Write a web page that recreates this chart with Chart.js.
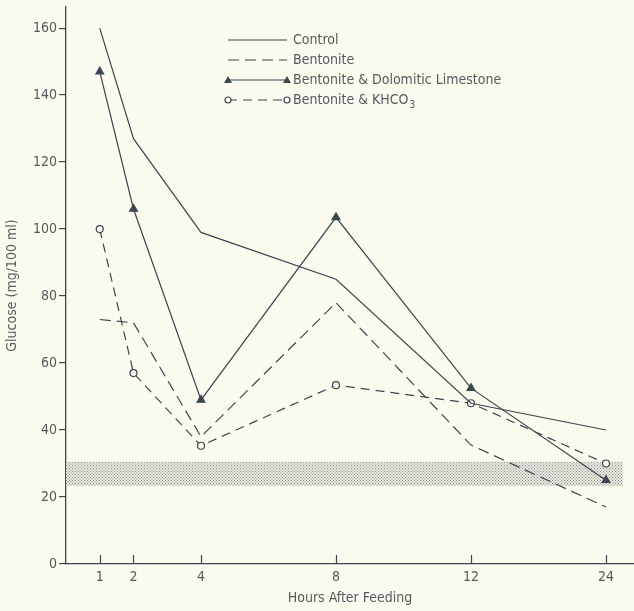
<!DOCTYPE html>
<html>
<head>
<meta charset="utf-8">
<script src="https://cdn.jsdelivr.net/npm/chart.js@4/dist/chart.umd.min.js"></script>
<style>
  html, body { margin: 0; padding: 0; background: #fbfaef; }
  #wrap { width: 634px; height: 611px; }
</style>
</head>
<body>
<div id="wrap"><canvas id="myChart" width="634" height="611"></canvas></div>
<script>
// hours after feeding, and where each sits on the (broken) time axis
const hours = [1, 2, 4, 8, 12, 24];
const hourPositions = [1, 2, 4, 8, 12, 16];

const control = [160, 127, 99, 85, 48, 40];
const bentonite = [73, 72, 38, 78, 35.5, 17];
const bentoniteDolomitic = [147, 106, 49, 103.5, 52.5, 25];
const bentoniteKHCO3 = [100, 57, 35.3, 53.4, 48, 30];

const yTicks = [0, 20, 40, 60, 80, 100, 120, 140, 160];
const normalRange = [23.3, 30.5];

const ink = '#3b4650';
const textInk = '#555a5e';
const font = "'Liberation Sans Narrow', 'DejaVu Sans Condensed', 'Liberation Sans', sans-serif";

function points(values) {
    return values.map((v, i) => ({ x: hourPositions[i], y: v }));
}

// dotted pattern for the normal range band
function dotPattern() {
    const c = document.createElement('canvas');
    c.width = 3; c.height = 3;
    const g = c.getContext('2d');
    g.fillStyle = '#e9e8de';
    g.fillRect(0, 0, 3, 3);
    g.fillStyle = '#8e918f';
    g.fillRect(0, 0, 1, 1);
    g.fillRect(1.5, 1.5, 1, 1);
    return g.createPattern(c, 'repeat');
}

const bandPlugin = {
    id: 'band',
    beforeDatasetsDraw(chart) {
        const { ctx, scales: { x, y } } = chart;
        const top = y.getPixelForValue(normalRange[1]);
        const bottom = y.getPixelForValue(normalRange[0]);
        const left = x.getPixelForValue(0);
        const right = x.getPixelForValue(16.5);
        ctx.save();
        ctx.fillStyle = dotPattern();
        ctx.fillRect(left, top, right - left, bottom - top);
        ctx.restore();
    }
};

// x ticks point up into the plot
const innerTicks = {
    id: 'innerTicks',
    afterDraw(chart) {
        const { ctx, scales: { x, y } } = chart;
        const y0 = y.getPixelForValue(0);
        ctx.save();
        ctx.strokeStyle = ink;
        ctx.lineWidth = 1.2;
        hourPositions.forEach(p => {
            const px = Math.round(x.getPixelForValue(p)) + 0.5;
            ctx.beginPath();
            ctx.moveTo(px, y0);
            ctx.lineTo(px, y0 - 9);
            ctx.stroke();
        });
        ctx.restore();
    }
};

// legend drawn inside the plot, like the original figure
const insideLegend = {
    id: 'insideLegend',
    afterDraw(chart) {
        const { ctx } = chart;
        const x0 = 228, x1 = 287, tx = 293;
        let ty = 40;
        ctx.save();
        chart.data.datasets.forEach(ds => {
            ctx.strokeStyle = ink;
            ctx.lineWidth = 1.2;
            ctx.setLineDash(ds.borderDash || []);
            ctx.beginPath();
            ctx.moveTo(x0, ty);
            ctx.lineTo(x1, ty);
            ctx.stroke();
            ctx.setLineDash([]);
            if (ds.pointStyle === 'triangle') {
                [x0, x1].forEach(px => {
                    ctx.fillStyle = ink;
                    ctx.beginPath();
                    ctx.moveTo(px, ty - 4);
                    ctx.lineTo(px + 4, ty + 3);
                    ctx.lineTo(px - 4, ty + 3);
                    ctx.closePath();
                    ctx.fill();
                });
            } else if (ds.pointRadius > 0) {
                [x0, x1].forEach(px => {
                    ctx.fillStyle = '#fbfaef';
                    ctx.beginPath();
                    ctx.arc(px, ty, 3, 0, Math.PI * 2);
                    ctx.fill();
                    ctx.stroke();
                });
            }
            ctx.fillStyle = textInk;
            ctx.font = '14px ' + font;
            ctx.textBaseline = 'middle';
            ctx.textAlign = 'left';
            const label = ds.label;
            if (label.endsWith('KHCO3')) {
                const main = label.slice(0, -1);
                ctx.fillText(main, tx, ty);
                const w = ctx.measureText(main).width;
                ctx.font = '10px ' + font;
                ctx.fillText('3', tx + w + 1, ty + 5);
            } else {
                ctx.fillText(label, tx, ty);
            }
            ty += 20;
        });
        ctx.restore();
    }
};

const ctx = document.getElementById('myChart').getContext('2d');
const myChart = new Chart(ctx, {
    type: 'line',
    data: {
        datasets: [{
            label: 'Control',
            data: points(control),
            borderColor: ink,
            borderWidth: 1.2,
            pointRadius: 0
        }, {
            label: 'Bentonite',
            data: points(bentonite),
            borderColor: ink,
            borderWidth: 1.2,
            borderDash: [11, 6],
            pointRadius: 0
        }, {
            label: 'Bentonite & Dolomitic Limestone',
            data: points(bentoniteDolomitic),
            borderColor: ink,
            borderWidth: 1.2,
            pointStyle: 'triangle',
            pointRadius: 4.5,
            pointBackgroundColor: ink,
            pointBorderColor: ink
        }, {
            label: 'Bentonite & KHCO3',
            data: points(bentoniteKHCO3),
            borderColor: ink,
            borderWidth: 1.2,
            borderDash: [9, 6],
            pointStyle: 'circle',
            pointRadius: 3.5,
            pointBackgroundColor: '#fbfaef',
            pointBorderColor: ink
        }]
    },
    options: {
        responsive: false,
        animation: false,
        layout: { autoPadding: false, padding: { top: 7, right: 0, left: 0, bottom: 0 } },
        plugins: {
            legend: { display: false },
            tooltip: { enabled: false }
        },
        scales: {
            x: {
                type: 'linear',
                min: 0,
                max: 16.83,
                afterBuildTicks: scale => {
                    scale.ticks = hourPositions.map(v => ({ value: v }));
                },
                afterFit: scale => {
                    scale.height = 47;
                    scale.paddingRight = 0;
                    scale.paddingLeft = 0;
                },
                ticks: {
                    color: textInk,
                    font: { family: font, size: 14 },
                    padding: 5,
                    maxRotation: 0,
                    callback: v => hours[hourPositions.indexOf(v)]
                },
                grid: { drawOnChartArea: false, drawTicks: false },
                border: { color: ink, width: 1.3 },
                title: {
                    display: true,
                    text: 'Hours After Feeding',
                    color: textInk,
                    font: { family: font, size: 14 },
                    padding: { top: 2 }
                }
            },
            y: {
                min: 0,
                max: 166.3,
                afterBuildTicks: scale => {
                    scale.ticks = yTicks.map(v => ({ value: v }));
                },
                afterFit: scale => {
                    scale.width = 66;
                    scale.paddingTop = 0;
                    scale.paddingBottom = 0;
                },
                ticks: {
                    color: textInk,
                    font: { family: font, size: 14 },
                    padding: 2
                },
                grid: { drawOnChartArea: false, tickLength: 7, color: ink, lineWidth: 1.2 },
                border: { color: ink, width: 1.3 },
                title: {
                    display: true,
                    text: 'Glucose (mg/100 ml)',
                    color: textInk,
                    font: { family: font, size: 14 },
                    padding: { bottom: 2 }
                }
            }
        }
    },
    plugins: [bandPlugin, innerTicks, insideLegend]
});
</script>
</body>
</html>
